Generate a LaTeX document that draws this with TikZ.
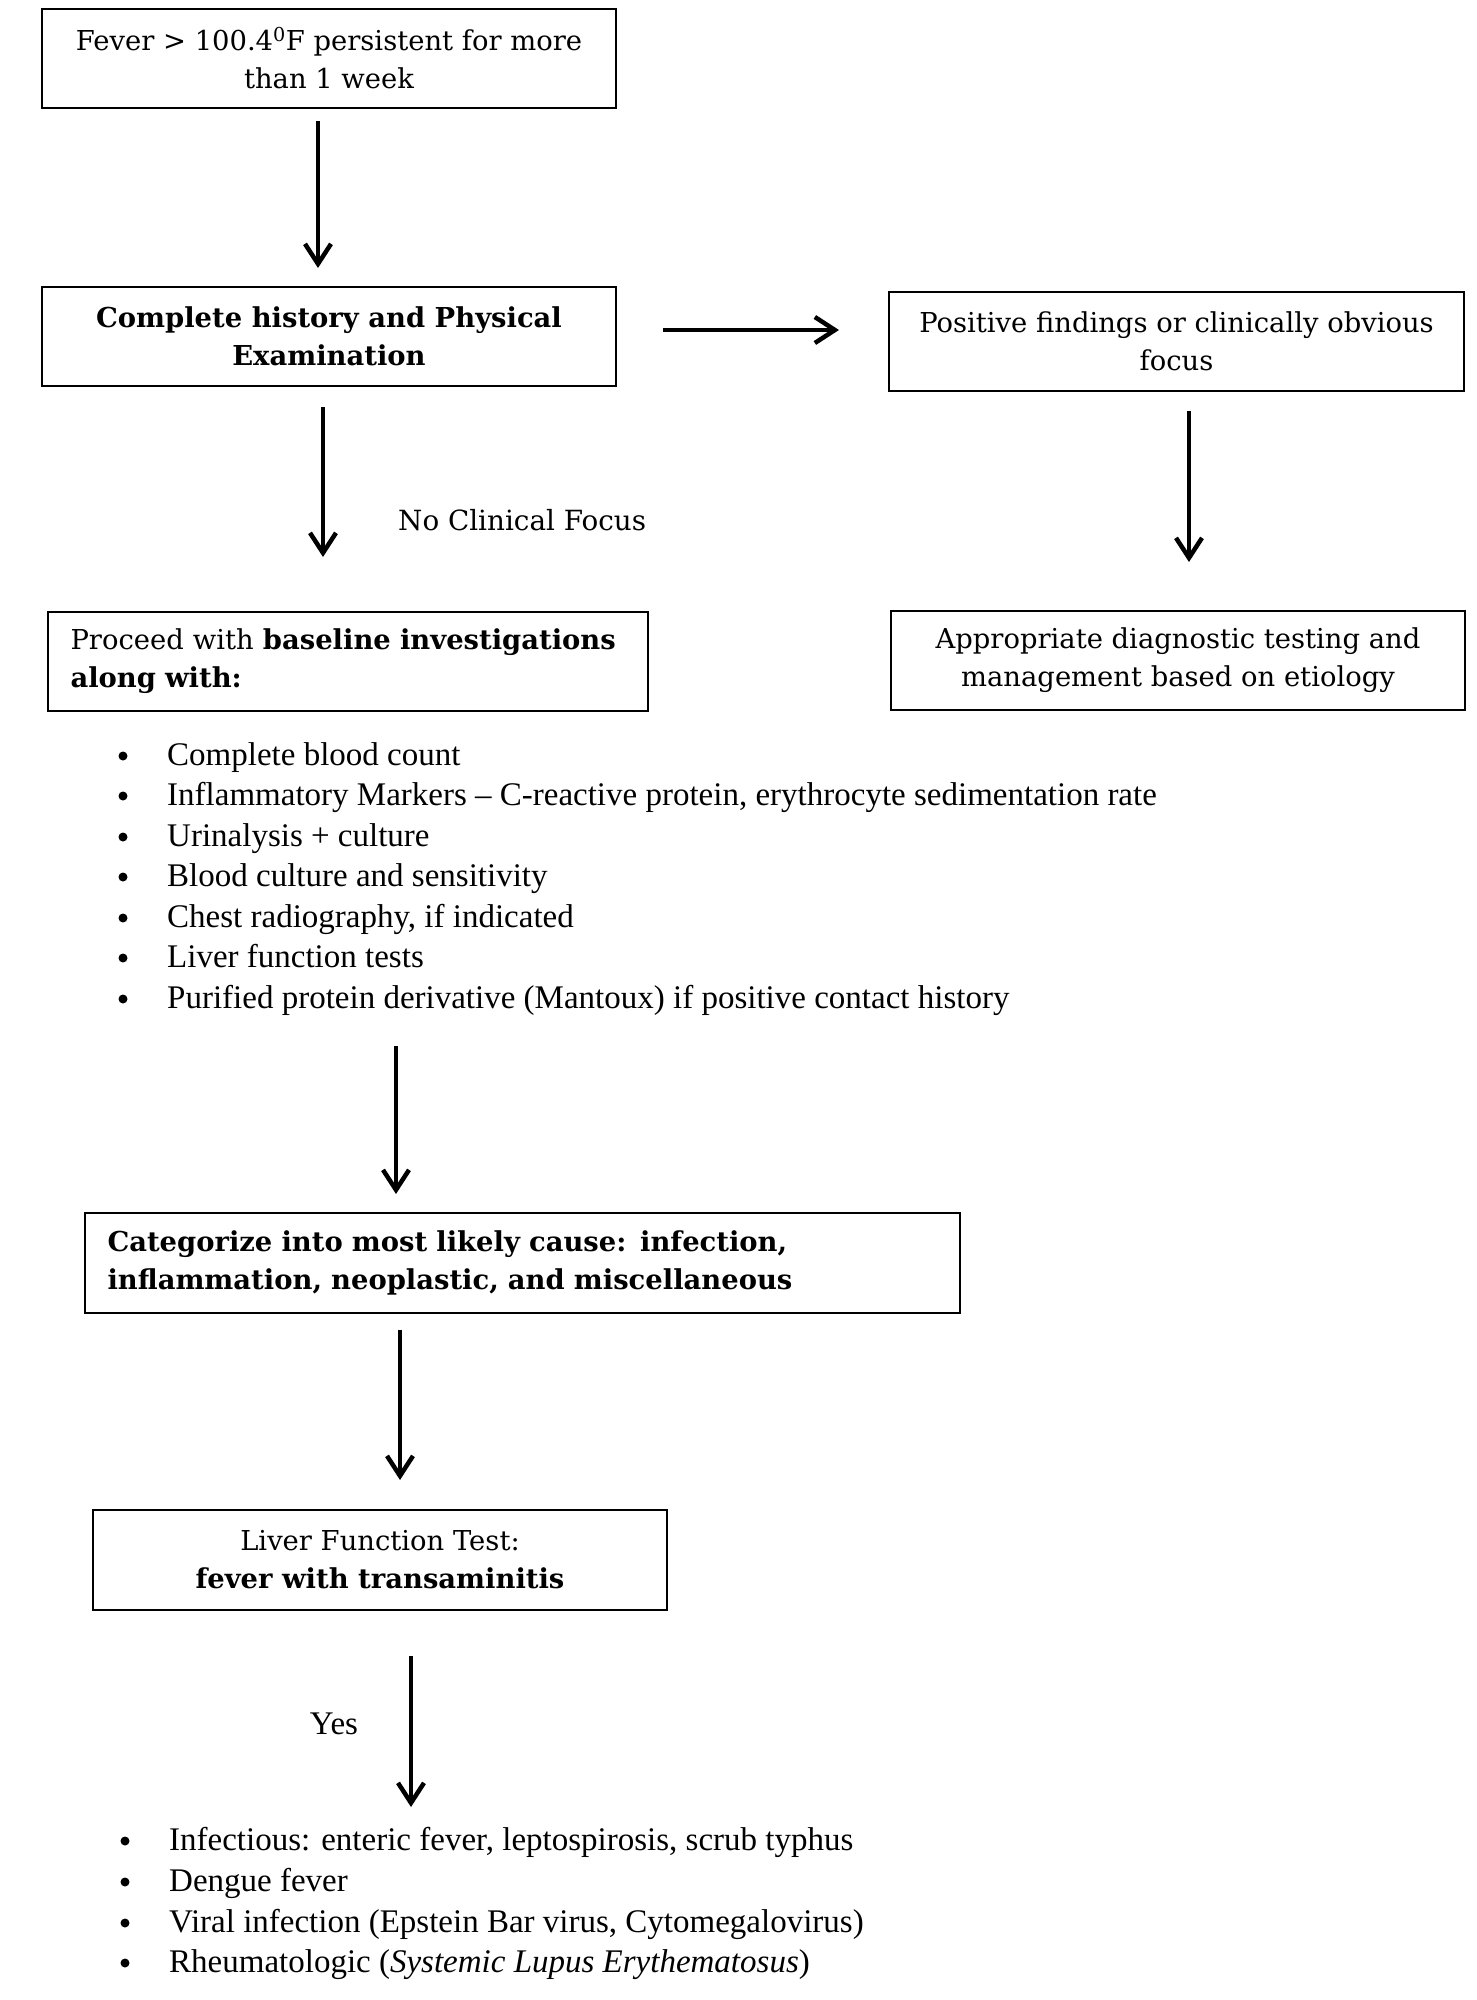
\documentclass[tikz,border=0pt]{standalone}
\usepackage{fontspec}
\setmainfont{Liberation Serif}
\newfontfamily\boxfont{DejaVu Serif}
\usetikzlibrary{arrows.meta}
\tikzset{
  box/.style={draw=black, line width=2pt, minimum width=574pt, minimum height=99pt, inner sep=0pt, font=\boxfont\fontsize{27.4}{38}\selectfont, align=center},
  arr/.style={line width=4.5pt, -{Straight Barb[length=20pt, width=26pt, line width=4.5pt]}},
  bul/.style={circle, fill=black, inner sep=0pt, minimum size=9pt},
  itm/.style={anchor=west, inner sep=0pt, text height=23pt, text depth=7pt, font=\fontsize{33}{41}\selectfont},
  lbl/.style={inner sep=0pt, font=\boxfont\fontsize{27.8}{38}\selectfont}
}
\begin{document}
\begin{tikzpicture}[x=1pt,y=-1pt]
\useasboundingbox[fill=white] (0,0) rectangle (1477,2000);

\node[box] (b1) at (329,58.5) {Fever > 100.4\textsuperscript{0}F persistent for more\\than 1 week};
\node[box] (b2) at (329,336) {\bfseries Complete history and Physical\\\bfseries Examination};
\node[box, minimum width=575pt] (b3) at (1176.5,341.5) {Positive findings or clinically obvious\\focus};
\node[box, minimum width=574pt] (b4) at (1178,660) {Appropriate diagnostic testing and\\management based on etiology};
\node[box, minimum width=600pt, minimum height=99pt, align=left, text width=555pt] (b5) at (348,661) {Proceed with \textbf{baseline investigations}\\\textbf{along with:}};
\node[box, minimum width=875pt, minimum height=100pt, align=left, text width=830pt] (b6) at (522.5,1263) {\bfseries Categorize into most likely cause: infection,\\\bfseries inflammation, neoplastic, and miscellaneous};
\node[box, minimum width=574pt, minimum height=100pt] (b7) at (380,1560) {Liver Function Test:\\\textbf{fever with transaminitis}};

% arrow end points
\coordinate (a1s) at (318,121); \coordinate (a1e) at (318,268);
\coordinate (a2s) at (663,330); \coordinate (a2e) at (839,330);
\coordinate (a3s) at (1189,411); \coordinate (a3e) at (1189,562);
\coordinate (a4s) at (323,407); \coordinate (a4e) at (323,557);
\coordinate (a5s) at (396,1046); \coordinate (a5e) at (396,1194);
\coordinate (a6s) at (400,1330); \coordinate (a6e) at (400,1480);
\coordinate (a7s) at (411,1656); \coordinate (a7e) at (411,1807);

\draw[arr] (a1s) -- (a1e);
\draw[arr] (a2s) -- (a2e);
\draw[arr] (a3s) -- (a3e);
\draw[arr] (a4s) -- (a4e);
\draw[arr] (a5s) -- (a5e);
\draw[arr] (a6s) -- (a6e);
\draw[arr] (a7s) -- (a7e);

\node[lbl, anchor=west] (ncf) at (398,520) {No Clinical Focus};
\node[itm, anchor=center] (yes) at (334,1726) {Yes};

% baseline investigations list
\foreach \y/\t [count=\i] in {757/{Complete blood count},
  797/{Inflammatory Markers -- C-reactive protein, erythrocyte sedimentation rate},
  838/{Urinalysis + culture},
  878/{Blood culture and sensitivity},
  919/{Chest radiography, if indicated},
  959/{Liver function tests},
  1000/{Purified protein derivative (Mantoux) if positive contact history}}{
  \node[bul] (p\i) at (123,\y-1) {};
  \node[itm] (q\i) at (167,\y) {\t};
}

% outcome list
\foreach \y/\t [count=\i] in {1842/{Infectious: enteric fever, leptospirosis, scrub typhus},
  1883/{Dengue fever},
  1924/{Viral infection (Epstein Bar virus, Cytomegalovirus)},
  1964/{Rheumatologic (\textit{Systemic Lupus Erythematosus})}}{
  \node[bul] (r\i) at (125,\y-1) {};
  \node[itm] (s\i) at (169,\y) {\t};
}
\end{tikzpicture}
\end{document}
